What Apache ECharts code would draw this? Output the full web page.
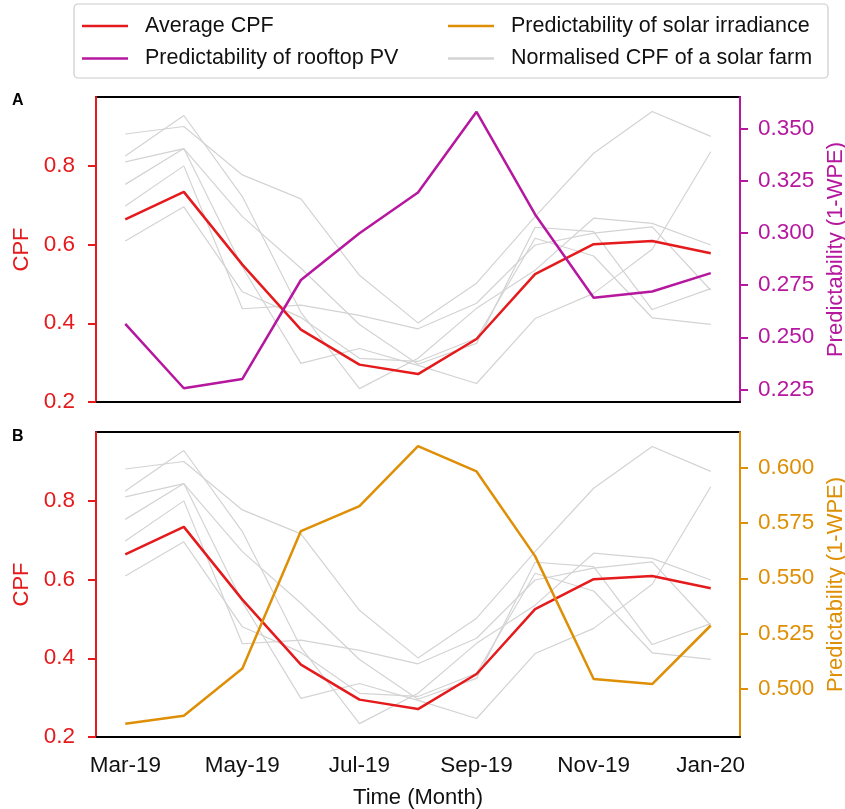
<!DOCTYPE html>
<html>
<head>
<meta charset="utf-8">
<script src="https://cdn.jsdelivr.net/npm/echarts@6/dist/echarts.min.js"></script>
<style>
  html, body { margin: 0; padding: 0; background: #fff; }
  #chart { width: 845px; height: 809px; }
</style>
</head>
<body>
<div id="chart"></div>
<script>
// months on the x axis
const months = ['Mar-19', 'Apr-19', 'May-19', 'Jun-19', 'Jul-19', 'Aug-19', 'Sep-19', 'Oct-19', 'Nov-19', 'Dec-19', 'Jan-20'];

// average CPF (left axis, both panels)
const avgCpf = [0.664, 0.734, 0.549, 0.384, 0.295, 0.271, 0.360, 0.525, 0.601, 0.609, 0.578];
// predictability of rooftop PV (right axis, panel A)
const rooftopPv = [0.2564, 0.2255, 0.230, 0.2775, 0.300, 0.3195, 0.3583, 0.309, 0.269, 0.272, 0.2808];
// predictability of solar irradiance (right axis, panel B)
const solarIrr = [0.4844, 0.488, 0.5093, 0.5713, 0.5826, 0.6096, 0.5982, 0.560, 0.5046, 0.5023, 0.5287];

// normalised CPF of the individual solar farms
const farmA = [0.881, 0.900, 0.777, 0.716, 0.522, 0.401, 0.502, 0.671, 0.832, 0.938, 0.875];
const farmB = [0.825, 0.928, 0.722, 0.428, 0.234, 0.311, 0.438, 0.535, 0.667, 0.654, 0.599];
const farmC = [0.810, 0.844, 0.671, 0.540, 0.397, 0.296, 0.349, 0.644, 0.633, 0.435, 0.488];
const farmD = [0.753, 0.844, 0.543, 0.298, 0.336, 0.293, 0.247, 0.412, 0.476, 0.588, 0.836];
const farmE = [0.698, 0.800, 0.437, 0.446, 0.420, 0.386, 0.451, 0.599, 0.629, 0.645, 0.484];
const farmF = [0.609, 0.696, 0.480, 0.415, 0.311, 0.303, 0.362, 0.616, 0.571, 0.414, 0.397];
const farms = [farmA, farmB, farmC, farmD, farmE, farmF];

// tick labels
const cpfTicks = [0.2, 0.4, 0.6, 0.8];
const pvTicks = [0.225, 0.25, 0.275, 0.3, 0.325, 0.35];
const irrTicks = [0.5, 0.525, 0.55, 0.575, 0.6];

const RED = '#e41a1c', PURPLE = '#b5179e', ORANGE = '#de8f05', GREY = '#d3d3d3';
const FONT = 'Liberation Sans';

let chart = echarts.init(document.getElementById('chart'), null, { renderer: 'canvas' });

function xAxis(grid, showLabels) {
    return {
        type: 'category',
        gridIndex: grid,
        data: months,
        boundaryGap: true,
        name: showLabels ? 'Time (Month)' : '',
        nameLocation: 'middle',
        nameGap: 50,
        nameTextStyle: { color: '#111', fontSize: 22, fontFamily: FONT },
        axisLine: { lineStyle: { color: '#000', width: 2 } },
        axisTick: { alignWithLabel: true, interval: 0, length: 8, lineStyle: { color: '#000', width: 2 } },
        axisLabel: { show: showLabels, interval: 1, margin: 17, color: '#111', fontSize: 22.5, fontFamily: FONT },
        splitLine: { show: false }
    }
}

function yAxis(grid, pos, min, max, ticks, color, name, digits, gap, margin) {
    return {
        type: 'value',
        gridIndex: grid,
        position: pos,
        min: min,
        max: max,
        name: name,
        nameLocation: 'middle',
        nameGap: gap,
        nameTextStyle: { color: color, fontSize: 22, fontFamily: FONT },
        axisLine: { show: true, lineStyle: { color: color, width: 2 } },
        axisTick: { show: true, length: 8, customValues: ticks, lineStyle: { color: color, width: 2 } },
        axisLabel: {
            customValues: ticks, margin: margin, color: color, fontSize: 22.5, fontFamily: FONT,
            formatter: v => v.toFixed(digits)
        },
        splitLine: { show: false }
    }
}

let series = [];
[0, 1].forEach(g => {
    farms.forEach(f => {
        series.push({
            name: 'Normalised CPF of a solar farm', type: 'line', xAxisIndex: g, yAxisIndex: g * 2,
            data: f, symbol: 'none', lineStyle: { color: GREY, width: 1.2 }, itemStyle: { color: GREY }
        })
    })
    series.push({
        name: 'Average CPF', type: 'line', xAxisIndex: g, yAxisIndex: g * 2,
        data: avgCpf, symbol: 'none', lineStyle: { color: RED, width: 2.5 }, itemStyle: { color: RED }
    })
})
series.push({
    name: 'Predictability of rooftop PV', type: 'line', xAxisIndex: 0, yAxisIndex: 1,
    data: rooftopPv, symbol: 'none', lineStyle: { color: PURPLE, width: 2.5 }, itemStyle: { color: PURPLE }
})
series.push({
    name: 'Predictability of solar irradiance', type: 'line', xAxisIndex: 1, yAxisIndex: 3,
    data: solarIrr, symbol: 'none', lineStyle: { color: ORANGE, width: 2.5 }, itemStyle: { color: ORANGE }
})

const legendText = { fontSize: 21.5, fontFamily: FONT, color: '#111', padding: [0, 0, 0, 12] };

chart.setOption({
    animation: false,
    grid: [
        { left: 96, top: 97, width: 644, height: 305, show: true, borderColor: '#000', borderWidth: 2, outerBoundsMode: 'none' },
        { left: 96, top: 432, width: 644, height: 305, show: true, borderColor: '#000', borderWidth: 2, outerBoundsMode: 'none' }
    ],
    legend: [
        {
            left: 82, top: 15, orient: 'vertical', padding: 0, icon: 'rect', itemWidth: 46, itemHeight: 2.5, itemGap: 10.5,
            data: ['Average CPF', 'Predictability of rooftop PV'], textStyle: legendText
        },
        {
            left: 448, top: 15, orient: 'vertical', padding: 0, icon: 'rect', itemWidth: 46, itemHeight: 2.5, itemGap: 10.5,
            data: ['Predictability of solar irradiance', 'Normalised CPF of a solar farm'], textStyle: legendText
        }
    ],
    graphic: [
        {
            type: 'rect', z: -1, shape: { x: 74, y: 4, width: 754, height: 74, r: 4 },
            style: { fill: '#fff', stroke: '#cccccc', lineWidth: 1.2 }
        },
        { type: 'text', left: 12, top: 93, style: { text: 'A', font: 'bold 16px ' + FONT, fill: '#000' } },
        { type: 'text', left: 12, top: 429, style: { text: 'B', font: 'bold 16px ' + FONT, fill: '#000' } }
    ],
    xAxis: [xAxis(0, false), xAxis(1, true)],
    yAxis: [
        yAxis(0, 'left', 0.2, 0.975, cpfTicks, RED, 'CPF', 1, 62, 21),
        yAxis(0, 'right', 0.2189, 0.3654, pvTicks, PURPLE, 'Predictability (1-WPE)', 3, 84, 18),
        yAxis(1, 'left', 0.2, 0.975, cpfTicks, RED, 'CPF', 1, 62, 21),
        yAxis(1, 'right', 0.4784, 0.616, irrTicks, ORANGE, 'Predictability (1-WPE)', 3, 84, 18)
    ],
    series: series
})
</script>
</body>
</html>
